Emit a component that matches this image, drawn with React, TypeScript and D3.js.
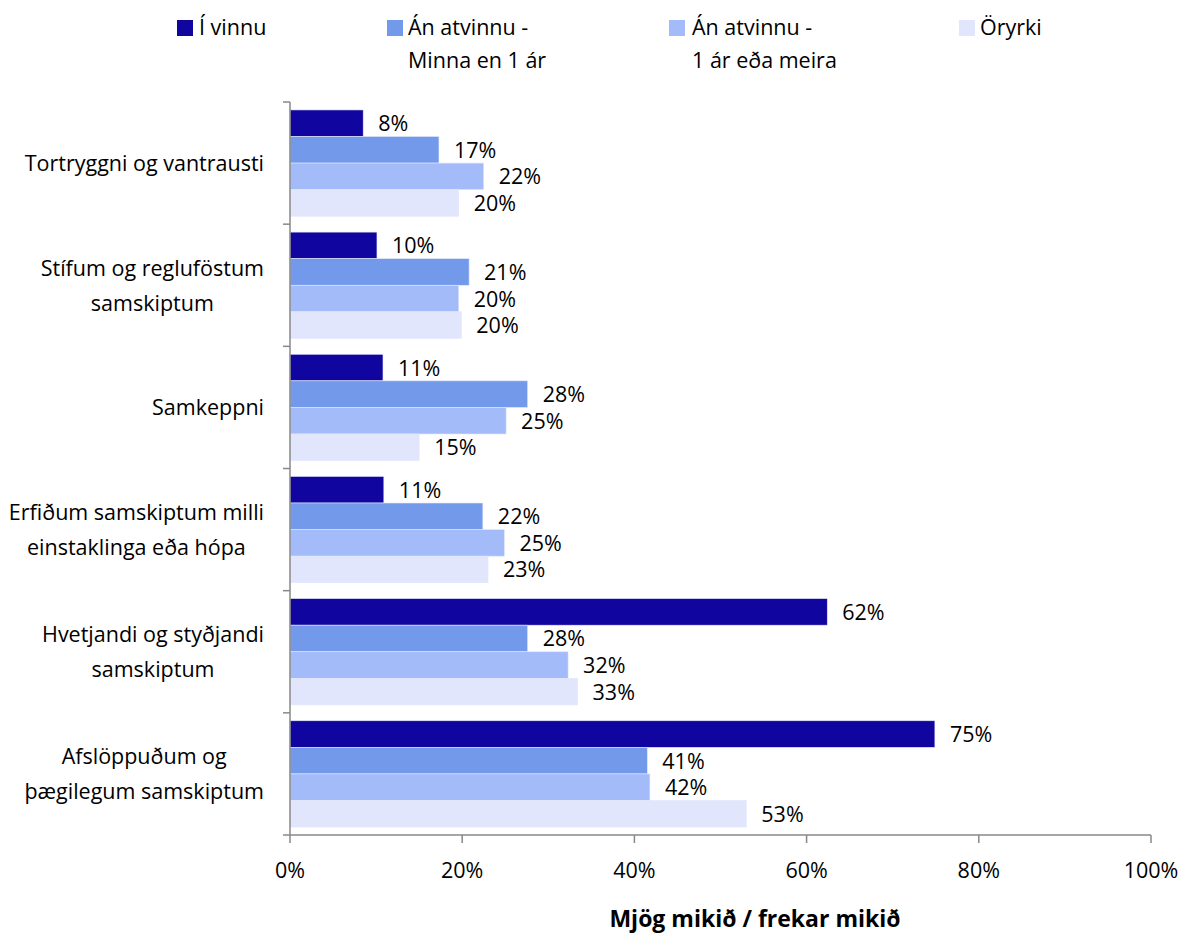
import React, { useLayoutEffect, useRef, useState } from "react";
import * as d3 from "d3";

const categories: string[][] = [
  ["Tortryggni og vantrausti"],
  ["Stífum og regluföstum", "samskiptum"],
  ["Samkeppni"],
  ["Erfiðum samskiptum milli", "einstaklinga eða hópa"],
  ["Hvetjandi og styðjandi", "samskiptum"],
  ["Afslöppuðum og", "þægilegum samskiptum"],
];

const seriesNames: string[][] = [
  ["Í vinnu"],
  ["Án atvinnu -", "Minna en 1 ár"],
  ["Án atvinnu -", "1 ár eða meira"],
  ["Öryrki"],
];
const seriesColors = ["#10069F", "#7399EA", "#A4BBFA", "#E1E6FC"];

const iVinnu = [8.5, 10.1, 10.8, 10.9, 62.4, 74.9];
const anMinna = [17.3, 20.8, 27.6, 22.4, 27.6, 41.5];
const anMeira = [22.5, 19.6, 25.1, 24.9, 32.3, 41.8];
const oryrki = [19.6, 19.9, 15.0, 23.0, 33.4, 53.0];
const labels = [
  ["8%", "10%", "11%", "11%", "62%", "75%"],
  ["17%", "21%", "28%", "22%", "28%", "41%"],
  ["22%", "20%", "25%", "25%", "32%", "42%"],
  ["20%", "20%", "15%", "23%", "33%", "53%"],
];
const xTicks = [0, 20, 40, 60, 80, 100];
const axisTitle = "Mjög mikið / frekar mikið";

const series = [iVinnu, anMinna, anMeira, oryrki];

export default function App() {
  const W = 1192, H = 938;
  const left = 290, right = 1151, top = 102, bottom = 835;
  const font = "'Open Sans', sans-serif";
  const fs = 21.5;
  const x = d3.scaleLinear().domain([0, 100]).range([left, right]);
  const y = d3.scaleBand<number>().domain(d3.range(categories.length)).range([top, bottom]).paddingInner(0.13).paddingOuter(0.065);
  const inner = d3.scaleBand<number>().domain(d3.range(4)).range([0, y.bandwidth()]);
  const step = (bottom - top) / categories.length;
  const legendX = [177, 387, 669, 959];
  const legendTextX = [199, 408, 692, 980];

  const measureRef = useRef<SVGTextElement>(null);
  const [widths, setWidths] = useState<number[]>(categories.map(() => 200));
  useLayoutEffect(() => {
    const el = measureRef.current;
    if (!el) return;
    const w = categories.map((lines) =>
      Math.max(...lines.map((l) => { el.textContent = l; return el.getComputedTextLength(); }))
    );
    el.textContent = "";
    setWidths(w);
  }, []);

  return (
    <svg width={W} height={H} style={{ position: "absolute", left: 0, top: 0, background: "#fff" }} fontFamily={font}>
      <text ref={measureRef} x={-1000} y={-1000} fontSize={fs}></text>
      {/* legend */}
      {seriesNames.map((lines, i) => (
        <g key={i}>
          <rect x={legendX[i]} y={20} width={16} height={16} fill={seriesColors[i]} />
          {lines.map((l, j) => (
            <text key={j} x={legendTextX[i]} y={35 + j * 33} fontSize={fs} fill="#000">{l}</text>
          ))}
        </g>
      ))}
      {/* bars */}
      {categories.map((cat, ci) => (
        <g key={ci}>
          {series.map((vals, si) => (
            <g key={si}>
              <rect x={x(0)} y={(y(ci) as number) + (inner(si) as number)} width={x(vals[ci]) - x(0)} height={inner.bandwidth()} fill={seriesColors[si]} stroke="#E1E6FC" strokeWidth={0.6} />
              <text x={x(vals[ci]) + 15} y={(y(ci) as number) + (inner(si) as number) + inner.bandwidth() / 2 + 8} fontSize={fs} fill="#000">{labels[si][ci]}</text>
            </g>
          ))}
          {cat.map((l, j) => (
            <text key={j} x={264 - widths[ci] / 2} textAnchor="middle" y={top + step * (ci + 0.5) + 8 + (j - (cat.length - 1) / 2) * 35} fontSize={fs} fill="#000">{l}</text>
          ))}
        </g>
      ))}
      {/* y axis */}
      <line x1={left} x2={left} y1={top} y2={bottom} stroke="#888" strokeWidth={1.5} />
      {d3.range(categories.length + 1).map((i) => (
        <line key={i} x1={left - 7} x2={left} y1={top + step * i} y2={top + step * i} stroke="#888" strokeWidth={1.5} />
      ))}
      {/* x axis */}
      <line x1={left} x2={right} y1={bottom} y2={bottom} stroke="#888" strokeWidth={1.5} />
      {xTicks.map((t) => (
        <g key={t}>
          <line x1={x(t)} x2={x(t)} y1={bottom} y2={bottom + 8} stroke="#888" strokeWidth={1.5} />
          <text x={x(t)} y={878} textAnchor="middle" fontSize={fs} fill="#000">{t}%</text>
        </g>
      ))}
      <text x={755} y={927} textAnchor="middle" fontSize={23} fontWeight="bold" fill="#000">{axisTitle}</text>
    </svg>
  );
}
